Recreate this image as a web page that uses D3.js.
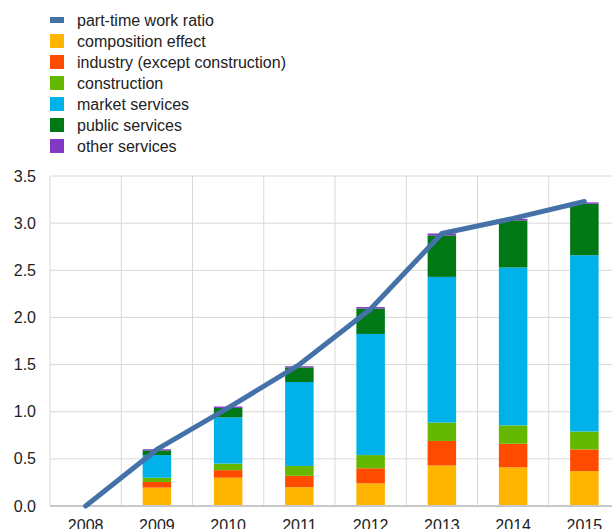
<!DOCTYPE html>
<html lang="en">
<head>
    <meta charset="UTF-8">
    <title>Part-time work ratio decomposition</title>
    <script src="https://d3js.org/d3.v7.min.js"></script>
    <style>
        body { margin: 0; background: #fff; }
        text { font-family: "Liberation Sans", Arial, sans-serif; fill: #222; font-size: 16px; }
        .grid line { stroke: #d9d9d9; stroke-width: 1px; }
        .ratio { fill: none; stroke: #4472a8; stroke-width: 5px; stroke-linecap: round; stroke-linejoin: round; }
    </style>
</head>
<body>
    <div id="chart"></div>
    <script>
        // Data
        const years = ["2008", "2009", "2010", "2011", "2012", "2013", "2014", "2015"];
        const seriesNames = ["composition effect", "industry (except construction)", "construction",
                             "market services", "public services", "other services"];
        const composition = [0, 0.195, 0.30, 0.20, 0.24, 0.43, 0.41, 0.37];
        const industry    = [0, 0.06, 0.08, 0.12, 0.16, 0.26, 0.25, 0.23];
        const construction = [0, 0.045, 0.07, 0.105, 0.14, 0.195, 0.195, 0.19];
        const marketServices = [0, 0.24, 0.49, 0.89, 1.285, 1.545, 1.675, 1.87];
        const publicServices = [0, 0.05, 0.10, 0.155, 0.27, 0.44, 0.50, 0.545];
        const otherServices = [0, 0.012, 0.015, 0.012, 0.015, 0.02, 0.015, 0.015];
        const partTimeRatio = [0, 0.60, 1.04, 1.50, 2.09, 2.89, 3.05, 3.23];
        const yTicks = [0, 0.5, 1.0, 1.5, 2.0, 2.5, 3.0, 3.5];

        const colors = ["#ffb400", "#ff4b00", "#65b800", "#00b1ea", "#007816", "#8139c6"];
        const lineColor = "#4472a8";

        const width = 612, height = 529;
        const margin = {top: 176, right: -8, bottom: 23, left: 50};

        const svg = d3.select("#chart").append("svg")
            .attr("width", width)
            .attr("height", height);

        // Legend
        const legend = svg.append("g").attr("transform", "translate(50,20)");
        legend.append("rect")
            .attr("x", 0).attr("y", -3).attr("width", 14).attr("height", 6)
            .attr("fill", lineColor);
        legend.append("text")
            .attr("x", 27).attr("y", 0).attr("dy", "0.35em")
            .text("part-time work ratio");
        seriesNames.forEach((name, i) => {
            const yy = 21 * (i + 1);
            legend.append("rect")
                .attr("x", 0).attr("y", yy - 7).attr("width", 14).attr("height", 14)
                .attr("fill", colors[i]);
            legend.append("text")
                .attr("x", 27).attr("y", yy).attr("dy", "0.35em")
                .text(name);
        });

        // Scales
        const x = d3.scaleBand()
            .domain(years)
            .range([margin.left, width - margin.right])
            .paddingInner(0.6)
            .paddingOuter(0.3);
        const step = x.step();
        const y = d3.scaleLinear()
            .domain([0, 3.5])
            .range([height - margin.bottom, margin.top]);

        // Grid
        const grid = svg.append("g").attr("class", "grid");
        grid.selectAll(".h").data(yTicks).enter().append("line")
            .attr("x1", margin.left).attr("x2", width - margin.right)
            .attr("y1", d => y(d)).attr("y2", d => y(d));
        grid.selectAll(".v").data(d3.range(years.length + 1)).enter().append("line")
            .attr("x1", i => margin.left + i * step).attr("x2", i => margin.left + i * step)
            .attr("y1", y(0)).attr("y2", y(3.5));

        // Stacked bars
        const table = years.map((yr, i) => ({
            year: yr,
            s0: composition[i], s1: industry[i], s2: construction[i],
            s3: marketServices[i], s4: publicServices[i], s5: otherServices[i]
        }));
        const stack = d3.stack().keys(["s0", "s1", "s2", "s3", "s4", "s5"]);
        const layers = stack(table);

        svg.selectAll(".layer").data(layers).enter().append("g")
            .attr("fill", (d, i) => colors[i])
            .selectAll("rect").data(d => d).enter().append("rect")
            .attr("x", d => x(d.data.year))
            .attr("width", x.bandwidth())
            .attr("y", d => y(d[1]))
            .attr("height", d => Math.max(0, y(d[0]) - y(d[1])));

        // X axis line
        svg.append("line")
            .attr("x1", margin.left).attr("x2", width)
            .attr("y1", y(0)).attr("y2", y(0))
            .attr("stroke", "#c8c8c8").attr("stroke-width", 2);

        // Part-time work ratio line
        const line = d3.line()
            .x((d, i) => x(years[i]) + x.bandwidth() / 2)
            .y(d => y(d));
        svg.append("path")
            .datum(partTimeRatio)
            .attr("class", "ratio")
            .attr("d", line);

        // Y axis labels
        svg.selectAll(".ylab").data(yTicks).enter().append("text")
            .attr("x", 36).attr("y", d => y(d)).attr("dy", "0.35em")
            .attr("text-anchor", "end")
            .text(d => d.toFixed(1));

        // X axis labels
        svg.selectAll(".xlab").data(years).enter().append("text")
            .attr("x", d => x(d) + x.bandwidth() / 2)
            .attr("y", y(0) + 25)
            .attr("text-anchor", "middle")
            .text(d => d);
    </script>
</body>
</html>
